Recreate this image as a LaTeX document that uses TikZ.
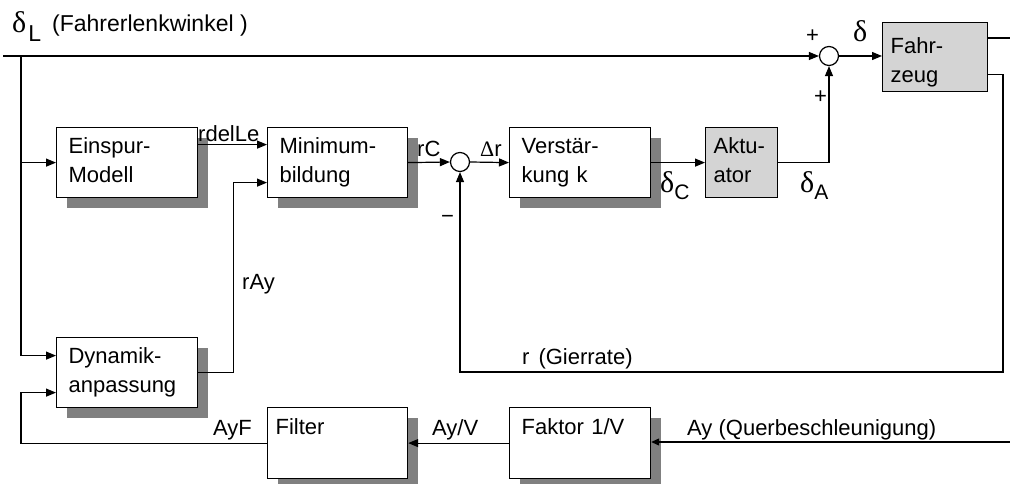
\documentclass[tikz,border=0pt]{standalone}
\usepackage{fontspec}
\setmainfont{Liberation Sans}
\newfontfamily\grk{Liberation Serif}
\usetikzlibrary{arrows.meta,shadows,calc}
\newcommand\dsym{{\grk\fontsize{30}{30}\selectfont δ}}
\newcommand\subf{\fontsize{21}{21}\selectfont}
\begin{document}
\begin{tikzpicture}[x=1pt,y=-1pt,
  every node/.style={font=\fontsize{22}{29}\selectfont},
  ln/.style={line width=1.2pt},
  arr/.style={ln,-{Triangle[length=10pt,width=8pt]}},
  wbox/.style={draw,line width=1.2pt,fill=white,anchor=north west,align=left,inner ysep=0pt,inner xsep=12pt,minimum height=70pt,
    drop shadow={shadow xshift=10pt,shadow yshift=-10pt,opacity=1,fill=black!50}},
  gbox/.style={draw,line width=1.2pt,fill=black!17,anchor=north west,align=left,inner ysep=0pt,inner xsep=8pt,minimum height=70pt},
  sumc/.style={circle,draw,line width=1.2pt,fill=white,minimum size=19pt,inner sep=0pt},
  lbl/.style={anchor=base west,inner sep=0pt},
]
\useasboundingbox (0,0) rectangle (1010,484);
\fill[white] (0,0) rectangle (1010,484);

% blocks
\node[wbox,text width=117pt] (ein) at (56,127) {Einspur-\\Modell\vphantom{g}};
\node[wbox,text width=116pt] (min) at (267,127) {Minimum-\\bildung\vphantom{g}};
\node[wbox,text width=117pt] (ver) at (509,127) {Verstär-\\kung k\vphantom{g}};
\node[gbox,text width=56pt] (akt) at (705,127) {Aktu-\\ator\vphantom{g}};
\node[gbox,text width=89pt,minimum height=69pt] (fz) at (882,22) {\raisebox{0pt}[27pt]{Fahr-}\\zeug\vphantom{g}};
\node[wbox,text width=117pt] (dyn) at (56,337) {Dynamik-\\anpassung\vphantom{g}};
\node[wbox,text width=124pt,inner xsep=8pt,minimum height=71pt] (fil) at (267,407) {Filter\\\vphantom{g}};
\node[wbox,text width=117pt,minimum height=71pt] (fak) at (509,407) {Faktor 1/V\\\vphantom{g}};

% summing points
\node[sumc] (s1) at (460,162) {};
\node[sumc] (s2) at (829,56) {};

% coordinates
\coordinate (in) at (3,56);
\coordinate (br) at (21,56);
\coordinate (o1) at (1010,38);
\coordinate (rc) at (1003,372);
\coordinate (ay) at (1010,442);

% connectors
\draw[arr] (in) -- (s2.west);
\draw[arr] (br) |- ([yshift=17pt]dyn.west);
\draw[arr] (br |- ein.west) -- (ein.west);
\draw[arr] ([yshift=18pt]ein.east) -- ([yshift=18pt]min.west);
\draw[arr] (dyn.east) -- ++(35,0) |- ([yshift=-20pt]min.west);
\draw[arr] (min.east) -- (s1.west);
\draw[arr] (s1.east) -- (ver.west);
\draw[arr] (ver.east) -- (akt.west);
\draw[arr] (akt.east) -| (s2.south);
\draw[arr] (s2.east) -- (fz.west |- s2.east);
\draw[ln] (fz.east |- o1) -- (o1);
\draw[arr] ([yshift=-17.5pt]fz.east) -| (rc) -| (s1.south);
\draw[ln,-{Triangle[length=8pt,width=7pt]}] (ay) -- (fak.east |- ay);
\draw[arr] (fak.west) -- (fil.east);
\draw[arr] (fil.west) -- (fil.west -| br) |- ([yshift=-20pt]dyn.west);

% labels
\node[lbl] (ldl) at (12,33) {\dsym\hspace{2pt}\raisebox{-9pt}{\fontsize{23}{23}\selectfont L}};
\node[lbl] (lfw) at (52,32) {\fontsize{23}{23}\selectfont (Fahrerlenkwinkel )};
\node[lbl] (lrd) at (198,142) {rdelLe};
\node[lbl] (lrc) at (417,157) {rC};
\node[lbl] (ldr) at (480,157) {{\grk Δ}r};
\node[lbl] (lmi) at (441,223) {−};
\node[lbl] (lp1) at (806,42.5) {+};
\node[lbl] (lp2) at (814,103.5) {+};
\node[lbl] (ldd) at (853,42) {\dsym};
\node[lbl] (ldc) at (660,193) {\dsym\raisebox{-7pt}{\subf C}};
\node[lbl] (lda) at (800,193) {\dsym\raisebox{-7pt}{\subf A}};
\node[lbl] (lray) at (242,289) {rAy};
\node[lbl] (lgr) at (522,364) {r\hspace{9pt}(Gierrate)};
\node[lbl] (layf) at (213,435) {AyF};
\node[lbl] (layv) at (432,435) {Ay/V};
\node[lbl] (layq) at (687,435) {Ay (Querbeschleunigung)};
\end{tikzpicture}
\end{document}
